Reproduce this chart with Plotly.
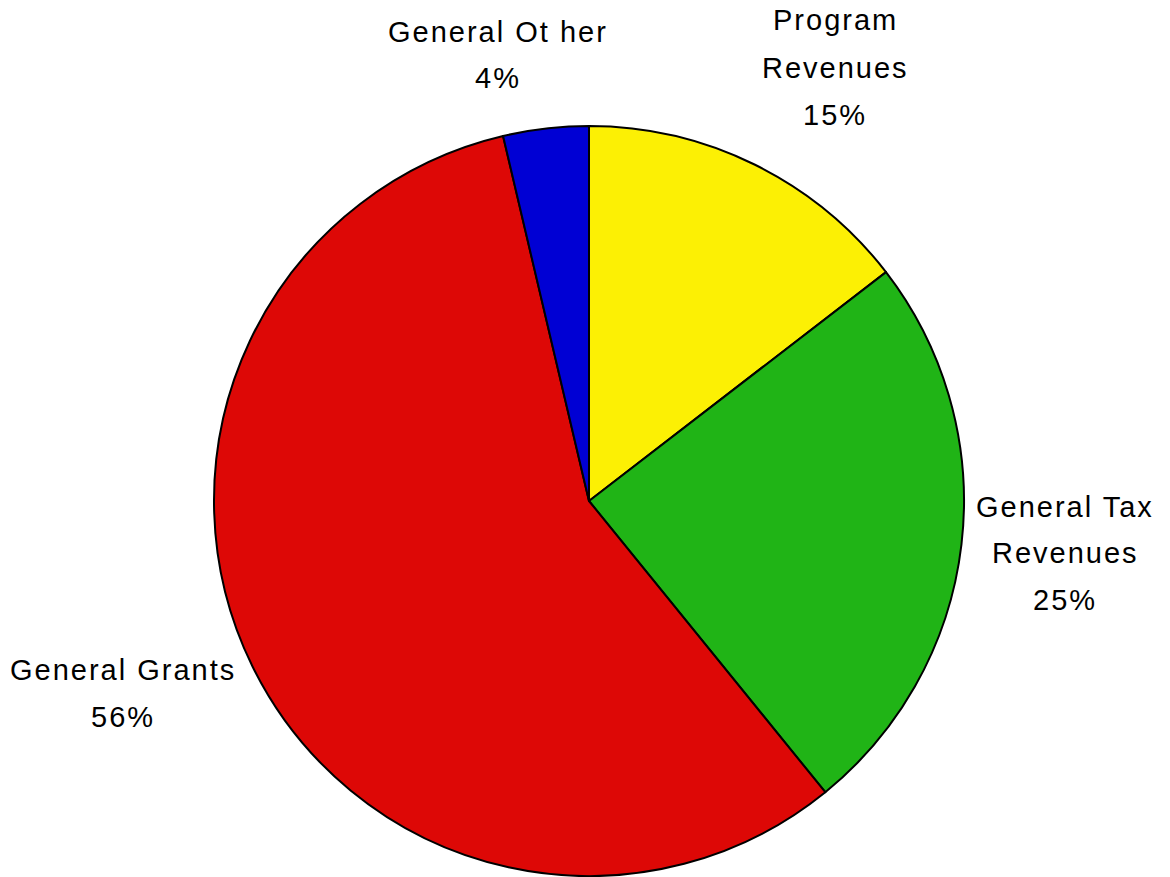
import plotly.graph_objects as go

categories = ["Program Revenues", "General Tax Revenues", "General Grants", "General Other"]
values = [14.55, 24.6, 57.17, 3.68]
colors = ["#FCF004", "#20B416", "#DD0806", "#0000D4"]
label_lines = [
    ["Program", "Revenues", "15%"],
    ["General Tax", "Revenues", "25%"],
    ["General Grants", "56%"],
    ["General Ot her", "4%"],
]

W, H = 1170, 877
# label placement (pixel centres) for each line
label_pos = [
    (835, [20, 68, 115]),
    (1065, [507, 553, 600]),
    (123, [670, 717]),
    (498, [32, 78]),
]

fig = go.Figure(go.Pie(
    labels=categories,
    values=values,
    sort=False,
    direction="clockwise",
    rotation=0,
    marker=dict(colors=colors, line=dict(color="black", width=2)),
    textinfo="none",
    hoverinfo="label",
    domain=dict(x=[214 / W, 964 / W], y=[0, 752 / H]),
    showlegend=False,
))

annotations = []
for lines, (cx, ys) in zip(label_lines, label_pos):
    for txt, py in zip(lines, ys):
        annotations.append(dict(
            text='<span style="letter-spacing:2px">' + txt + '</span>',
            x=cx / W, y=1 - py / H, xref="paper", yref="paper",
            xanchor="center", yanchor="middle", showarrow=False,
            font=dict(family="Liberation Sans, Arial, sans-serif", size=29, color="black"),
        ))

fig.update_layout(
    width=W, height=H,
    margin=dict(l=0, r=0, t=0, b=0),
    paper_bgcolor="white", plot_bgcolor="white",
    annotations=annotations,
)

fig.write_html("out.html", config={"displayModeBar": False},
               post_script="document.body.style.margin='0';")
